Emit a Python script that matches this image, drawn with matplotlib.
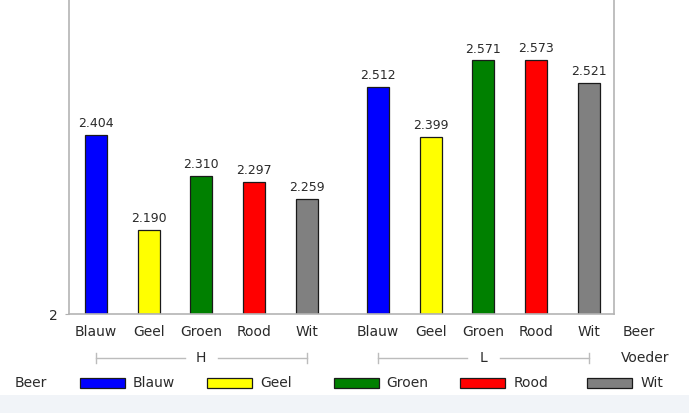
import matplotlib
matplotlib.use("Agg")
import matplotlib.pyplot as plt
from matplotlib.patches import Rectangle
from matplotlib.transforms import blended_transform_factory

plt.rcParams.update({
    "font.family": ["DejaVu Sans"],
    "font.size": 10,
})

# data
groups = ["H", "L"]
colours = ["Blauw", "Geel", "Groen", "Rood", "Wit"]
values_h = [2.404, 2.190, 2.310, 2.297, 2.259]
values_l = [2.512, 2.399, 2.571, 2.573, 2.521]
bar_colors = ["#0000ff", "#ffff00", "#008000", "#ff0000", "#808080"]

W, H = 689, 413
fig = plt.figure(figsize=(W / 100, H / 100), dpi=100)

# light strip at the bottom
fig.patches.append(Rectangle((0, 0), 1, 18 / H, transform=fig.transFigure,
                             facecolor="#f1f4f8", edgecolor="none", zorder=0))

ax = fig.add_axes([69 / W, (H - 314) / H, (614 - 69) / W, 314 / H])
group_gap = 1.35
xs, vals, cols = [], [], []
for g, series in enumerate([values_h, values_l]):
    for i, v in enumerate(series):
        xs.append(i + g * (len(colours) - 1 + group_gap))
        vals.append(v)
        cols.append(bar_colors[i])

base = 2.0
ax.bar(xs, [v - base for v in vals], bottom=base, width=0.42, color=cols,
       edgecolor="#1a1a1a", linewidth=0.9, zorder=2)
for x, v in zip(xs, vals):
    ax.text(x, v + 0.011, f"{v:.3f}", ha="center", va="bottom", fontsize=9,
            color="#2a2a2a")

ax.set_xlim(-0.51, 9.83)
ax.set_ylim(2.0, 2.707)
ax.set_yticks([2])
ax.set_yticklabels(["2"])
ax.set_xticks(xs)
ax.set_xticklabels(colours * 2)
ax.tick_params(axis="x", length=0, pad=8, labelsize=10, labelcolor="#2a2a2a")
ax.tick_params(axis="y", length=3, color="#b0b0b0", pad=5, labelsize=10,
               labelcolor="#2a2a2a")
for s in ["left", "right", "bottom"]:
    ax.spines[s].set_color("#b4b4b4")
    ax.spines[s].set_linewidth(1.2)
ax.spines["top"].set_visible(False)

# group labels with brackets
trans = blended_transform_factory(ax.transData, fig.transFigure)
yb = (H - 358) / H
for g, name in enumerate(groups):
    x0 = xs[g * 5]
    x1 = xs[g * 5 + 4]
    xm = (x0 + x1) / 2
    ax.plot([x0, xm - 0.31], [yb, yb], color="#bcbcbc", lw=1, transform=trans, clip_on=False)
    ax.plot([xm + 0.31, x1], [yb, yb], color="#bcbcbc", lw=1, transform=trans, clip_on=False)
    for xe in (x0, x1):
        ax.plot([xe, xe], [yb - 5 / H, yb + 5 / H], color="#bcbcbc", lw=1,
                transform=trans, clip_on=False)
    ax.text(xm, yb, name, ha="center", va="center", fontsize=10,
            color="#2a2a2a", transform=trans)

fig.text(623 / W, (H - 332) / H, "Beer", ha="left", va="center", fontsize=10, color="#2a2a2a")
fig.text(621 / W, (H - 358) / H, "Voeder", ha="left", va="center", fontsize=10, color="#2a2a2a")

# legend row
yl = (H - 383) / H
fig.text(15 / W, yl, "Beer", ha="left", va="center", fontsize=10, color="#2a2a2a")
for i, (name, c) in enumerate(zip(colours, bar_colors)):
    px = 80 + i * 126.8
    fig.patches.append(Rectangle((px / W, (H - 388) / H), 45 / W, 10 / H,
                                 transform=fig.transFigure, facecolor=c,
                                 edgecolor="#1a1a1a", linewidth=0.9))
    fig.text((px + 53) / W, yl, name, ha="left", va="center", fontsize=10,
             color="#2a2a2a")

fig.savefig("out.png", dpi=100)
